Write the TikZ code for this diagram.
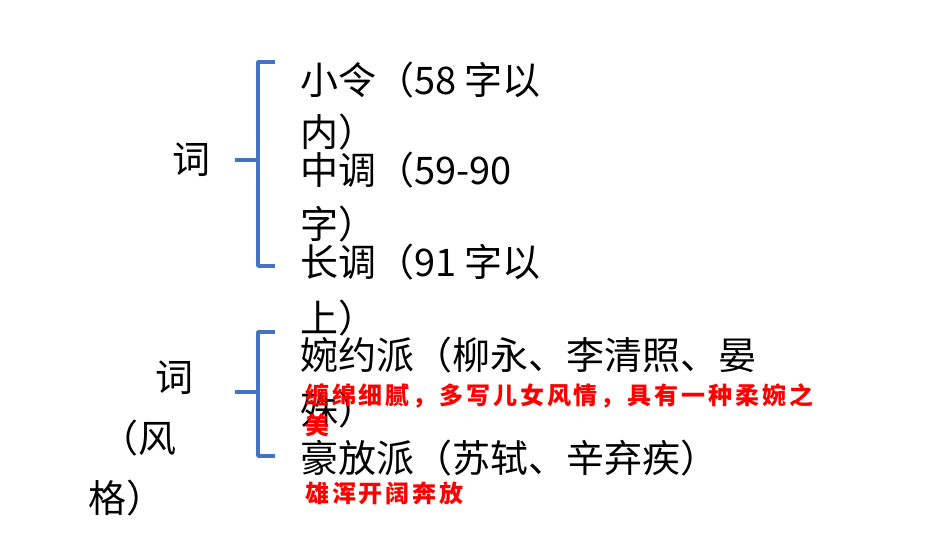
\documentclass[tikz,border=0pt]{standalone}
\usepackage{fontspec}
\setmainfont{Noto Sans CJK SC}
\newfontfamily\cjkbold[LetterSpace=12]{Noto Sans CJK SC Black}
\definecolor{braceblue}{RGB}{68,114,196}
\begin{document}
\begin{tikzpicture}[x=1pt,y=-1pt,
                    item/.style={anchor=west, inner sep=0pt, font=\fontsize{38}{44}\selectfont},
                    note/.style={anchor=west, inner sep=0pt, text=red, font=\cjkbold\fontsize{24}{28}\selectfont},
                    brace/.style={draw=braceblue, line width=3.5pt, line join=round},
                ]
                \useasboundingbox (0,0) rectangle (950,535);
                % first group
                \node[item] (ci) at (172,160) {词};
                \draw[brace] (275,62) -- (258,62) -- (258,266) -- (275,266);
                \draw[brace] (258,160) -- (235,160);
                \node[item] (xiaoling) at (300,80) {小令（58 字以};
                \node[item] (xiaolingb) at (300,132) {内）};
                \node[item] (zhongdiao) at (300,170) {中调（59-90};
                \node[item] (zhongdiaob) at (300,224) {字）};
                \node[item] (changdiao) at (300,262) {长调（91 字以};
                \node[item] (changdiaob) at (300,318) {上）};
                % second group
                \node[item] (cifeng) at (155,378) {词};
                \node[item] (fenga) at (100,438) {（风};
                \node[item] (fengb) at (88,498) {格）};
                \draw[brace] (275,332) -- (258,332) -- (258,456) -- (275,456);
                \draw[brace] (258,392) -- (235,392);
                \node[item] (wanyue) at (300,355) {婉约派（柳永、李清照、晏};
                \node[item] (wanyueb) at (300,410) {殊）};
                \node[note] (wanyuenote) at (305,396) {缠绵细腻，多写儿女风情，具有一种柔婉之};
                \node[note] (wanyuenoteb) at (305,425) {美};
                \node[item] (haofang) at (300,458) {豪放派（苏轼、辛弃疾）};
                \node[note] (haofangnote) at (305,493) {雄浑开阔奔放};
            \end{tikzpicture}
\end{document}
